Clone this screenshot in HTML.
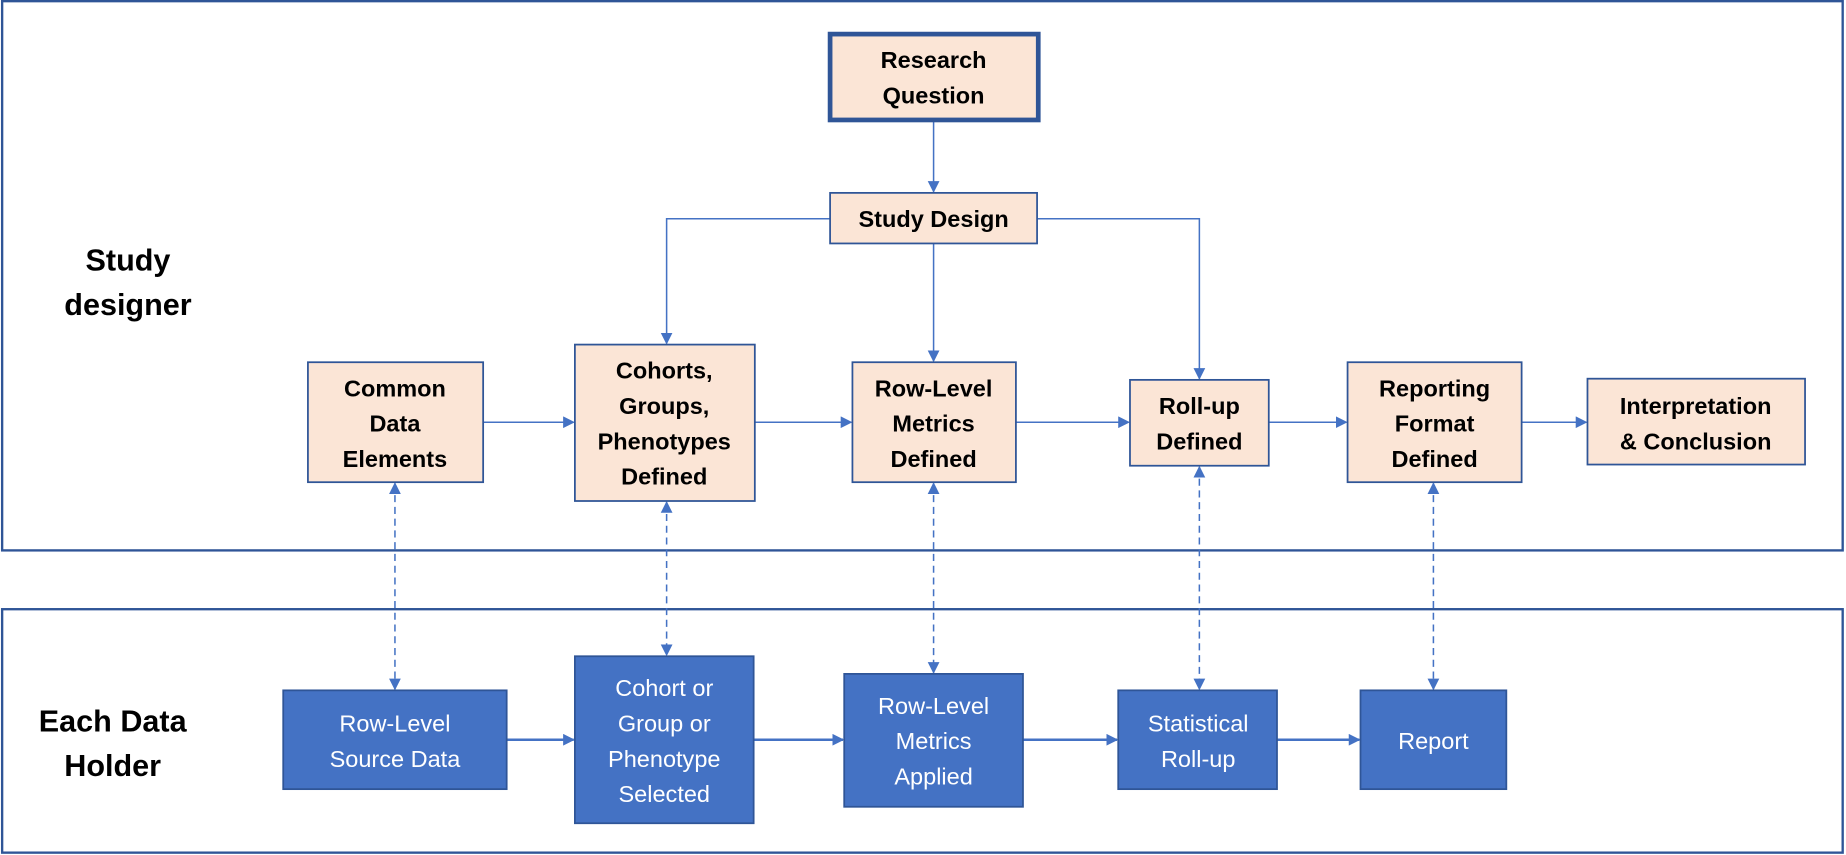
<!DOCTYPE html>
<html><head><meta charset="utf-8"><style>html,body{margin:0;padding:0;background:#fff}svg{display:block}</style></head><body>
<svg width="1846" height="855" viewBox="0 0 1568 727" xmlns="http://www.w3.org/2000/svg" font-family="Liberation Sans, sans-serif">
<defs>
<marker id="a" markerWidth="10" markerHeight="10" refX="9" refY="5" orient="auto" markerUnits="userSpaceOnUse"><path d="M0,0 L10,5 L0,10 z" fill="#4472C4"/></marker>
<marker id="b" markerWidth="10" markerHeight="10" refX="1" refY="5" orient="auto" markerUnits="userSpaceOnUse"><path d="M10,0 L0,5 L10,10 z" fill="#4472C4"/></marker>
</defs>
<rect x="1" y="1" width="1565" height="467" fill="none" stroke="#2F5597" stroke-width="2"/>
<rect x="1" y="518" width="1565" height="207" fill="none" stroke="#2F5597" stroke-width="2"/>
<g font-weight="bold" font-size="26" text-anchor="middle" fill="#000">
<text x="108" y="230">Study</text><text x="108" y="268">designer</text>
<text x="95" y="622">Each Data</text><text x="95" y="660">Holder</text>
</g>
<g stroke="#4472C4" stroke-width="1.3" fill="none">
<line x1="793" y1="102" x2="793" y2="163" marker-end="url(#a)"/>
<polyline points="705,186 566,186 566,292" marker-end="url(#a)"/>
<line x1="793" y1="207" x2="793" y2="307" marker-end="url(#a)"/>
<polyline points="881,186 1019,186 1019,322" marker-end="url(#a)"/>
<line x1="410" y1="359" x2="487" y2="359" marker-end="url(#a)"/>
<line x1="641" y1="359" x2="723" y2="359" marker-end="url(#a)"/>
<line x1="863" y1="359" x2="959" y2="359" marker-end="url(#a)"/>
<line x1="1078" y1="359" x2="1144" y2="359" marker-end="url(#a)"/>
<line x1="1293" y1="359" x2="1348" y2="359" marker-end="url(#a)"/>
<g stroke-dasharray="6,4">
<line x1="335" y1="411" x2="335" y2="586" marker-start="url(#b)" marker-end="url(#a)"/>
<line x1="566" y1="427" x2="566" y2="557" marker-start="url(#b)" marker-end="url(#a)"/>
<line x1="793" y1="411" x2="793" y2="572" marker-start="url(#b)" marker-end="url(#a)"/>
<line x1="1019" y1="397" x2="1019" y2="586" marker-start="url(#b)" marker-end="url(#a)"/>
<line x1="1218" y1="411" x2="1218" y2="586" marker-start="url(#b)" marker-end="url(#a)"/>
</g>
<g stroke-width="2.2">
<line x1="430" y1="629" x2="487" y2="629" marker-end="url(#a)"/>
<line x1="640" y1="629" x2="716" y2="629" marker-end="url(#a)"/>
<line x1="869" y1="629" x2="949" y2="629" marker-end="url(#a)"/>
<line x1="1085" y1="629" x2="1155" y2="629" marker-end="url(#a)"/>
</g>
</g>
<g fill="#FBE5D6" stroke="#2F5597" stroke-width="1.5">
<rect x="705" y="29" width="177" height="73" stroke-width="4"/>
<rect x="705" y="164" width="176" height="43"/>
<rect x="261" y="308" width="149" height="102"/>
<rect x="488" y="293" width="153" height="133"/>
<rect x="724" y="308" width="139" height="102"/>
<rect x="960" y="323" width="118" height="73"/>
<rect x="1145" y="308" width="148" height="102"/>
<rect x="1349" y="322" width="185" height="73"/>
</g>
<g fill="#4472C4" stroke="#2F5597" stroke-width="1.5">
<rect x="240" y="587" width="190" height="84"/>
<rect x="488" y="558" width="152" height="142"/>
<rect x="717" y="573" width="152" height="113"/>
<rect x="950" y="587" width="135" height="84"/>
<rect x="1156" y="587" width="124" height="84"/>
</g>
<g font-weight="bold" font-size="20" text-anchor="middle" fill="#000">
<text x="793" y="58">Research</text><text x="793" y="88">Question</text>
<text x="793" y="193">Study Design</text>
<text x="335" y="337">Common</text><text x="335" y="367">Data</text><text x="335" y="397">Elements</text>
<text x="564" y="322">Cohorts,</text><text x="564" y="352">Groups,</text><text x="564" y="382">Phenotypes</text><text x="564" y="412">Defined</text>
<text x="793" y="337">Row-Level</text><text x="793" y="367">Metrics</text><text x="793" y="397">Defined</text>
<text x="1019" y="352">Roll-up</text><text x="1019" y="382">Defined</text>
<text x="1219" y="337">Reporting</text><text x="1219" y="367">Format</text><text x="1219" y="397">Defined</text>
<text x="1441" y="352">Interpretation</text><text x="1441" y="382">&amp; Conclusion</text>
</g>
<g font-size="20" text-anchor="middle" fill="#fff">
<text x="335" y="622">Row-Level</text><text x="335" y="652">Source Data</text>
<text x="564" y="592">Cohort or</text><text x="564" y="622">Group or</text><text x="564" y="652">Phenotype</text><text x="564" y="682">Selected</text>
<text x="793" y="607">Row-Level</text><text x="793" y="637">Metrics</text><text x="793" y="667">Applied</text>
<text x="1018" y="622">Statistical</text><text x="1018" y="652">Roll-up</text>
<text x="1218" y="637">Report</text>
</g>
</svg>
</body></html>
